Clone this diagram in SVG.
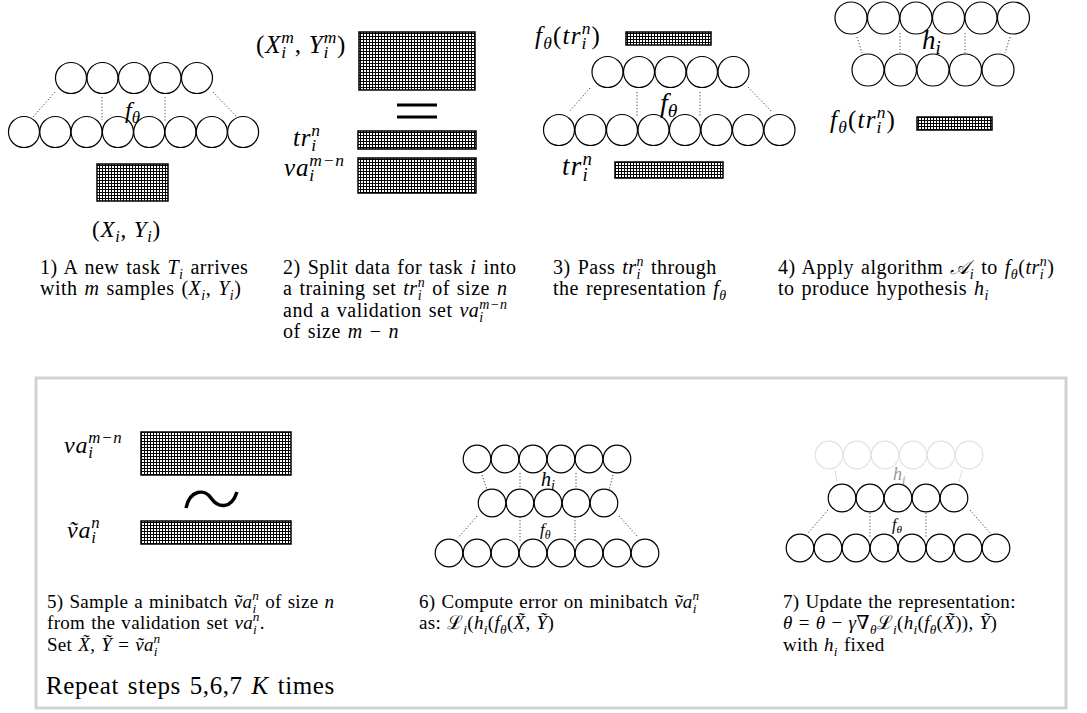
<svg xmlns="http://www.w3.org/2000/svg" width="1087" height="713" viewBox="0 0 1087 713">
<style>
text{font-family:"Liberation Serif","DejaVu Serif",serif;fill:#000}
.b{font-size:20px;letter-spacing:.5px;word-spacing:1.5px}
.b2{font-size:19px;letter-spacing:.3px;word-spacing:1px}
.m{font-style:italic}
.s{font-size:70%}
.l{letter-spacing:.8px}
.c{fill:#fff;stroke:#000;stroke-width:1.2}
.cf{fill:#fff;stroke:#e2e2e2;stroke-width:1.2}
.d{stroke:#444;stroke-width:1;stroke-dasharray:1.2 2;fill:none}
.df{stroke:#ddd;stroke-width:1;fill:none}
.mx{fill:url(#g);stroke:#000;stroke-width:1.5}
</style>
<defs>
<pattern id="g" width="3" height="3" patternUnits="userSpaceOnUse"><rect width="3" height="3" fill="#fff"/><path d="M0 .5H3M.5 0V3" stroke="#000" stroke-width="1"/></pattern>
</defs>
<rect x="36" y="378" width="1030" height="330" fill="none" stroke="#d2d2d2" stroke-width="3"/>
<g id="connectors">
<path class="d" d="M55 92L33 117M102 97V120M165 97V122M213 92L237 117"/>
<path class="d" d="M590 88L569 112M637 92V117M700 92V117M748 87L772 112"/>
<path class="d" d="M857 37L862 53M900 33V53M965 33V53M1010 37L1005 53"/>
<path class="d" d="M482 475L487 490M520 473V488M576 473V488M613 475L609 490M477 516L458 538M520 517V542M575 517V542M619 516L638 537"/>
<path class="df" d="M835 470L837 482M962 470L959 482"/>
<path class="d" d="M828 510L808 533M870 513V537M926 513V537M970 510L990 533"/>
</g>
<g id="panel1">
<g class="c"><circle cx="71" cy="78" r="15.5"/><circle cx="102.5" cy="78" r="15.5"/><circle cx="134" cy="78" r="15.5"/><circle cx="165.5" cy="78" r="15.5"/><circle cx="197" cy="78" r="15.5"/>
<circle cx="24" cy="132" r="15.5"/><circle cx="55.3" cy="132" r="15.5"/><circle cx="86.6" cy="132" r="15.5"/><circle cx="117.9" cy="132" r="15.5"/><circle cx="149.2" cy="132" r="15.5"/><circle cx="180.5" cy="132" r="15.5"/><circle cx="211.8" cy="132" r="15.5"/><circle cx="243.1" cy="132" r="15.5"/></g>
<text x="125" y="118" style="font-size:24px"><tspan class="m">f</tspan><tspan class="s m" dy="5">θ</tspan></text>
<rect class="mx" x="97" y="164" width="71" height="37"/>
<text class="l" x="92" y="237" style="font-size:23px">(<tspan class="m">X</tspan><tspan class="s m" dy="5">i</tspan><tspan dy="-5">, </tspan><tspan class="m">Y</tspan><tspan class="s m" dy="5">i</tspan><tspan dy="-5">)</tspan></text>
</g>
<g id="panel2">
<text class="l" x="256" y="53" style="font-size:25px">(<tspan class="m">X</tspan><tspan class="s m" dy="5">i</tspan><tspan class="s m" dx="-5.6" dy="-15.5">m</tspan><tspan dy="10.5">, </tspan><tspan class="m">Y</tspan><tspan class="s m" dy="5">i</tspan><tspan class="s m" dx="-5.6" dy="-15.5">m</tspan><tspan dy="10.5">)</tspan></text>
<rect class="mx" x="359" y="32" width="116" height="58"/>
<path d="M397 105H437M397 117H437" stroke="#000" stroke-width="3"/>
<text class="l" x="293" y="146" style="font-size:25px"><tspan class="m">tr</tspan><tspan class="s m" dy="5">i</tspan><tspan class="s m" dx="-5.6" dy="-15.5">n</tspan></text>
<rect class="mx" x="358" y="131" width="118" height="18"/>
<text class="l" x="284" y="176" style="font-size:25px"><tspan class="m">va</tspan><tspan class="s m" dy="5">i</tspan><tspan class="s m" dx="-5.6" dy="-15.5">m−n</tspan></text>
<rect class="mx" x="358" y="158" width="118" height="35"/>
</g>
<g id="panel3">
<text x="535" y="44" style="font-size:25px;letter-spacing:1.2px"><tspan class="m">f</tspan><tspan class="s m" dy="5">θ</tspan><tspan dy="-5">(</tspan><tspan class="m">tr</tspan><tspan class="s m" dy="5">i</tspan><tspan class="s m" dx="-6" dy="-15">n</tspan><tspan dy="10">)</tspan></text>
<rect class="mx" x="626" y="32" width="85" height="13"/>
<g class="c"><circle cx="607.5" cy="72" r="15.5"/><circle cx="639" cy="72" r="15.5"/><circle cx="670.5" cy="72" r="15.5"/><circle cx="702" cy="72" r="15.5"/><circle cx="733.5" cy="72" r="15.5"/>
<circle cx="559" cy="130" r="15.5"/><circle cx="590.5" cy="130" r="15.5"/><circle cx="622" cy="130" r="15.5"/><circle cx="653.5" cy="130" r="15.5"/><circle cx="685" cy="130" r="15.5"/><circle cx="716.5" cy="130" r="15.5"/><circle cx="748" cy="130" r="15.5"/><circle cx="779.5" cy="130" r="15.5"/></g>
<text x="660" y="112" style="font-size:28px"><tspan class="m">f</tspan><tspan class="s m" dy="5">θ</tspan></text>
<text x="562" y="175" style="font-size:27px;letter-spacing:1.2px"><tspan class="m">tr</tspan><tspan class="s m" dy="6">i</tspan><tspan class="s m" dx="-6.5" dy="-16.5">n</tspan></text>
<rect class="mx" x="615" y="162" width="108" height="16"/>
</g>
<g id="panel4">
<g class="c"><circle cx="851" cy="18" r="16"/><circle cx="883.5" cy="18" r="16"/><circle cx="916" cy="18" r="16"/><circle cx="948.5" cy="18" r="16"/><circle cx="981" cy="18" r="16"/><circle cx="1013.5" cy="18" r="16"/>
<circle cx="868" cy="70" r="16"/><circle cx="900.5" cy="70" r="16"/><circle cx="933" cy="70" r="16"/><circle cx="965.5" cy="70" r="16"/><circle cx="998" cy="70" r="16"/></g>
<text x="922" y="49" style="font-size:27px"><tspan class="m">h</tspan><tspan class="s m" dy="5">i</tspan></text>
<text x="830" y="128" style="font-size:25px;letter-spacing:1.2px"><tspan class="m">f</tspan><tspan class="s m" dy="5">θ</tspan><tspan dy="-5">(</tspan><tspan class="m">tr</tspan><tspan class="s m" dy="5">i</tspan><tspan class="s m" dx="-6" dy="-15">n</tspan><tspan dy="10">)</tspan></text>
<rect class="mx" x="917" y="117" width="75" height="13"/>
</g>
<g id="text1">
<text class="b" x="40" y="274">1) A new task <tspan class="m">T</tspan><tspan class="s m" dy="4.5">i</tspan><tspan dy="-4.5"> arrives</tspan></text>
<text class="b" x="40" y="295">with <tspan class="m">m</tspan> samples (<tspan class="m">X</tspan><tspan class="s m" dy="4.5">i</tspan><tspan dy="-4.5">, </tspan><tspan class="m">Y</tspan><tspan class="s m" dy="4.5">i</tspan><tspan dy="-4.5">)</tspan></text>
</g>
<g id="text2">
<text class="b" x="283" y="274">2) Split data for task <tspan class="m">i</tspan> into</text>
<text class="b" x="283" y="295">a training set <tspan class="m">tr</tspan><tspan class="s m" dy="4.5">i</tspan><tspan class="s m" dx="-4.4" dy="-12.5">n</tspan><tspan dy="8"> of size </tspan><tspan class="m">n</tspan></text>
<text class="b" x="283" y="317">and a validation set <tspan class="m">va</tspan><tspan class="s m" dy="4.5">i</tspan><tspan class="s m" dx="-4.4" dy="-12.5">m−n</tspan></text>
<text class="b" x="283" y="338">of size <tspan class="m">m</tspan> − <tspan class="m">n</tspan></text>
</g>
<g id="text3">
<text class="b" x="553" y="274">3) Pass <tspan class="m">tr</tspan><tspan class="s m" dy="4.5">i</tspan><tspan class="s m" dx="-4.4" dy="-12.5">n</tspan><tspan dy="8"> through</tspan></text>
<text class="b" x="553" y="295">the representation <tspan class="m">f</tspan><tspan class="s m" dy="4.5">θ</tspan></text>
</g>
<g id="text4">
<text class="b" x="778" y="274">4) Apply algorithm <tspan class="m">𝒜</tspan><tspan class="s m" dy="4.5">i</tspan><tspan dy="-4.5"> to </tspan><tspan class="m">f</tspan><tspan class="s m" dy="4.5">θ</tspan><tspan dy="-4.5">(</tspan><tspan class="m">tr</tspan><tspan class="s m" dy="4.5">i</tspan><tspan class="s m" dx="-4.4" dy="-12.5">n</tspan><tspan dy="8">)</tspan></text>
<text class="b" x="778" y="295">to produce hypothesis <tspan class="m">h</tspan><tspan class="s m" dy="4.5">i</tspan></text>
</g>
<g id="panel5">
<text class="l" x="64" y="453" style="font-size:24px"><tspan class="m">va</tspan><tspan class="s m" dy="5">i</tspan><tspan class="s m" dx="-5.5" dy="-15">m−n</tspan></text>
<rect class="mx" x="141" y="432" width="150" height="43"/>
<path d="M186 508C190 489 205 489 211 498C218 508 231 510 237 492" fill="none" stroke="#000" stroke-width="3.5"/>
<text class="l" x="67" y="538" style="font-size:24px"><tspan class="m">ṽa</tspan><tspan class="s m" dy="5">i</tspan><tspan class="s m" dx="-5.5" dy="-15">n</tspan></text>
<rect class="mx" x="141" y="521" width="150" height="23"/>
</g>
<g id="panel6">
<g class="c"><circle cx="477" cy="459" r="13.8"/><circle cx="505" cy="459" r="13.8"/><circle cx="533" cy="459" r="13.8"/><circle cx="561" cy="459" r="13.8"/><circle cx="589" cy="459" r="13.8"/><circle cx="617" cy="459" r="13.8"/>
<circle cx="492" cy="503" r="13.8"/><circle cx="520" cy="503" r="13.8"/><circle cx="548" cy="503" r="13.8"/><circle cx="576" cy="503" r="13.8"/><circle cx="604" cy="503" r="13.8"/>
<circle cx="449" cy="553" r="13.8"/><circle cx="477" cy="553" r="13.8"/><circle cx="505" cy="553" r="13.8"/><circle cx="533" cy="553" r="13.8"/><circle cx="561" cy="553" r="13.8"/><circle cx="589" cy="553" r="13.8"/><circle cx="617" cy="553" r="13.8"/><circle cx="645" cy="553" r="13.8"/></g>
<text x="541" y="486" style="font-size:20px"><tspan class="m">h</tspan><tspan class="s m" dy="4">i</tspan></text>
<text x="540" y="535" style="font-size:17px"><tspan class="m">f</tspan><tspan class="s m" dy="3.5">θ</tspan></text>
</g>
<g id="panel7">
<g class="cf"><circle cx="829" cy="455" r="13.8"/><circle cx="857" cy="455" r="13.8"/><circle cx="885" cy="455" r="13.8"/><circle cx="913" cy="455" r="13.8"/><circle cx="941" cy="455" r="13.8"/><circle cx="969" cy="455" r="13.8"/></g>
<g class="c"><circle cx="842" cy="498" r="13.8"/><circle cx="870" cy="498" r="13.8"/><circle cx="898" cy="498" r="13.8"/><circle cx="926" cy="498" r="13.8"/><circle cx="954" cy="498" r="13.8"/>
<circle cx="800" cy="548" r="13.8"/><circle cx="828" cy="548" r="13.8"/><circle cx="856" cy="548" r="13.8"/><circle cx="884" cy="548" r="13.8"/><circle cx="912" cy="548" r="13.8"/><circle cx="940" cy="548" r="13.8"/><circle cx="968" cy="548" r="13.8"/><circle cx="996" cy="548" r="13.8"/></g>
<text x="893" y="480" style="font-size:18px;fill:#9a9a9a"><tspan class="m">h</tspan><tspan class="s m" dy="3.5">i</tspan></text>
<text x="892" y="530" style="font-size:16px"><tspan class="m">f</tspan><tspan class="s m" dy="3">θ</tspan></text>
</g>
<g id="text5">
<text class="b2" x="47" y="608">5) Sample a minibatch <tspan class="m">ṽa</tspan><tspan class="s m" dy="4.5">i</tspan><tspan class="s m" dx="-4.2" dy="-12.5">n</tspan><tspan dy="8"> of size </tspan><tspan class="m">n</tspan></text>
<text class="b2" x="47" y="629">from the validation set <tspan class="m">va</tspan><tspan class="s m" dy="4.5">i</tspan><tspan class="s m" dx="-4.2" dy="-12.5">n</tspan><tspan dy="8">.</tspan></text>
<text class="b2" x="47" y="651">Set <tspan class="m">X̃</tspan>, <tspan class="m">Ỹ</tspan> = <tspan class="m">ṽa</tspan><tspan class="s m" dy="4.5">i</tspan><tspan class="s m" dx="-4.2" dy="-12.5">n</tspan></text>
<text x="46" y="694" style="font-size:25px;letter-spacing:.6px;word-spacing:2px">Repeat steps 5,6,7 <tspan class="m">K</tspan> times</text>
</g>
<g id="text6">
<text class="b2" x="419" y="608">6) Compute error on minibatch <tspan class="m">ṽa</tspan><tspan class="s m" dy="4.5">i</tspan><tspan class="s m" dx="-4.2" dy="-12.5">n</tspan></text>
<text class="b2" x="419" y="629">as: ℒ<tspan class="s m" dy="4.5">i</tspan><tspan dy="-4.5">(</tspan><tspan class="m">h</tspan><tspan class="s m" dy="4.5">i</tspan><tspan dy="-4.5">(</tspan><tspan class="m">f</tspan><tspan class="s m" dy="4.5">θ</tspan><tspan dy="-4.5">(</tspan><tspan class="m">X̃</tspan>, <tspan class="m">Ỹ</tspan>)</text>
</g>
<g id="text7">
<text class="b2" x="783" y="608">7) Update the representation:</text>
<text class="b2" x="783" y="629"><tspan class="m">θ</tspan> = <tspan class="m">θ</tspan> − <tspan class="m">γ</tspan>∇<tspan class="s m" dy="4.5">θ</tspan><tspan dy="-4.5">ℒ</tspan><tspan class="s m" dy="4.5">i</tspan><tspan dy="-4.5">(</tspan><tspan class="m">h</tspan><tspan class="s m" dy="4.5">i</tspan><tspan dy="-4.5">(</tspan><tspan class="m">f</tspan><tspan class="s m" dy="4.5">θ</tspan><tspan dy="-4.5">(</tspan><tspan class="m">X̃</tspan>)), <tspan class="m">Ỹ</tspan>)</text>
<text class="b2" x="783" y="651">with <tspan class="m">h</tspan><tspan class="s m" dy="4.5">i</tspan><tspan dy="-4.5"> fixed</tspan></text>
</g>
</svg>
